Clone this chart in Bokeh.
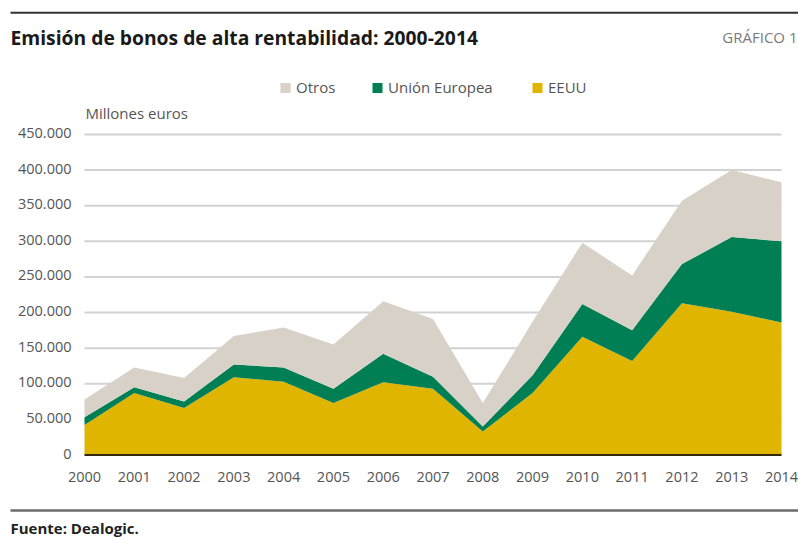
from bokeh.plotting import figure
from bokeh.models import ColumnDataSource, Range1d
from bokeh.core.properties import value
from bokeh.embed import file_html
from bokeh.resources import INLINE

# ---------------- data ----------------
years = [2000, 2001, 2002, 2003, 2004, 2005, 2006, 2007, 2008, 2009, 2010, 2011, 2012, 2013, 2014]
eeuu = [42000, 87000, 66000, 109000, 103000, 73000, 102000, 93000, 33000, 87000, 166000, 132000, 213000, 201000, 186000]
union_europea = [11000, 8000, 9000, 18000, 20000, 20000, 40000, 17000, 7000, 25000, 46000, 43000, 55000, 105000, 114000]
otros = [25000, 28000, 33000, 40000, 56000, 62000, 74000, 81000, 33000, 75000, 86000, 77000, 89000, 94000, 83000]
series_names = ["EEUU", "Unión Europea", "Otros"]
y_ticks = [0, 50000, 100000, 150000, 200000, 250000, 300000, 350000, 400000, 450000]
y_tick_labels = ["0", "50.000", "100.000", "150.000", "200.000", "250.000", "300.000", "350.000", "400.000", "450.000"]
x_tick_labels = [str(y) for y in years]

title_text = "Emisión de bonos de alta rentabilidad: 2000-2014"
chart_number = "GRÁFICO 1"
unit_text = "Millones euros"
source_text = "Fuente: Dealogic."

# ---------------- style / layout ----------------
FONT = "Open Sans"
C_OTROS = "#d7d1c8"
C_UE = "#007f55"
C_EEUU = "#dfb500"
TXT = "#555555"
W, H = 798, 537
# pixel placement of the plotting area inside the canvas
PX_LEFT, PX_RIGHT = 84, 781      # x of first / last year
PX_BOTTOM, PX_TOP = 454.5, 134   # y of lowest / highest tick
X0, X1 = years[0], years[-1]
Y0, Y1 = y_ticks[0], y_ticks[-1]
kx = (X1 - X0) / (PX_RIGHT - PX_LEFT)
ky = (Y1 - Y0) / (PX_BOTTOM - PX_TOP)

def X(px):
    return X0 + (px - PX_LEFT) * kx

def Y(py):
    return Y0 + (PX_BOTTOM - py) * ky

p = figure(width=W, height=H, x_range=Range1d(X(0), X(W)), y_range=Range1d(Y(H), Y(0)),
           x_axis_type=None, y_axis_type=None, toolbar_location=None, output_backend="svg",
           min_border=0, min_border_left=0, min_border_right=0, min_border_top=0, min_border_bottom=0)
p.grid.visible = False
p.outline_line_color = None
p.background_fill_color = "white"
p.border_fill_color = "white"

# grid lines (value scale)
grid_y = y_ticks[1:]
p.segment(x0=[X0] * len(grid_y), x1=[X1] * len(grid_y), y0=grid_y, y1=grid_y,
          line_color="#d2d2d2", line_width=2)

# stacked areas
src = ColumnDataSource(dict(year=years, eeuu=eeuu, ue=union_europea, otros=otros))
p.varea_stack(stackers=["eeuu", "ue", "otros"], x="year", color=[C_EEUU, C_UE, C_OTROS], source=src)

# base line
p.segment(x0=[X0], x1=[X1], y0=[Y0], y1=[Y0], line_color="#33290f", line_width=2)

# value-axis labels
p.text(x=[X0] * len(y_ticks), y=y_ticks, text=y_tick_labels, text_font=value(FONT),
       text_font_size="14.5px", text_color=TXT, text_align="right", text_baseline="alphabetic",
       x_offset=-13, y_offset=-1.5)
# year labels
p.text(x=years, y=[Y0] * len(years), text=x_tick_labels, text_font=value(FONT),
       text_font_size="14.5px", text_color=TXT, text_align="center", text_baseline="alphabetic",
       y_offset=21.5)

# ---------------- header ----------------
p.segment(x0=[X(10)], x1=[X(798)], y0=[Y(12.2)], y1=[Y(12.2)], line_color="#333333", line_width=2)
p.text(x=[X(10)], y=[Y(37)], text=[title_text], text_font=value(FONT), text_font_style="bold",
       text_font_size="19.3px", text_color="#1a1a1a", text_baseline="alphabetic")
p.text(x=[X(797)], y=[Y(36)], text=[chart_number], text_font=value(FONT), text_font_size="15px",
       text_color="#7a7a7a", text_align="right", text_baseline="alphabetic")

leg_labels = [series_names[2], series_names[1], series_names[0]]
leg_colors = [C_OTROS, C_UE, C_EEUU]
leg_px = [280, 372, 532]
p.quad(left=[X(v) for v in leg_px], right=[X(v + 10) for v in leg_px],
       top=[Y(82.5)] * 3, bottom=[Y(92.5)] * 3, fill_color=leg_colors, line_color=None)
p.text(x=[X(v + 15.5) for v in leg_px], y=[Y(86)] * 3, text=leg_labels, text_font=value(FONT),
       text_font_size="15px", text_color=TXT, text_baseline="alphabetic")
p.text(x=[X(85)], y=[Y(112)], text=[unit_text], text_font=value(FONT), text_font_size="15px",
       text_color=TXT, text_baseline="alphabetic")

# ---------------- footer ----------------
p.segment(x0=[X(10)], x1=[X(798)], y0=[Y(510)], y1=[Y(510)], line_color="#6b6b6b", line_width=2.5)
p.text(x=[X(10)], y=[Y(527)], text=[source_text], text_font=value(FONT), text_font_style="bold",
       text_font_size="15px", text_color="#222222", text_baseline="alphabetic")

open("out.html", "w").write(file_html(p, INLINE))
